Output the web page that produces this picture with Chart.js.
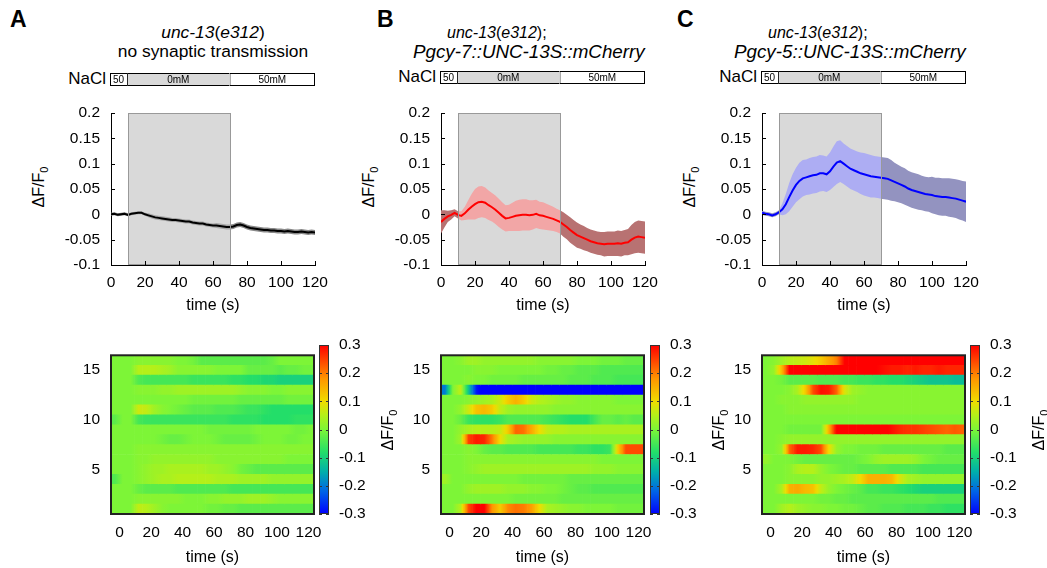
<!DOCTYPE html>
<html>
<head>
<meta charset="utf-8">
<script src="https://cdn.jsdelivr.net/npm/chart.js@4.4.1/dist/chart.umd.min.js"></script>
<style>
  body { margin: 0; width: 1047px; height: 568px; position: relative; overflow: hidden; background: #fff;
         font-family: "Liberation Sans", Arial, sans-serif; color: #000; }
  canvas { position: absolute; }
  .txt { position: absolute; white-space: nowrap; }
  .letter { font-weight: bold; font-size: 23px; line-height: 23px; }
  .ttl { font-size: 17.4px; line-height: 19px; }
  .ttl.sm { font-size: 16px; }
  .ttl.lg { font-size: 18.8px; line-height: 22px; }
  .nacl { font-size: 17px; line-height: 20px; width: 60px; text-align: right; }
  .rot { position: absolute; width: 80px; height: 20px; line-height: 20px; text-align: center; font-size: 16px;
         white-space: nowrap; transform: translate(-50%, -50%) rotate(-90deg); }
  .rot sub { font-size: 11px; }
</style>
</head>
<body>

<div class="txt letter" style="left:10px;top:8px">A</div>
<div class="txt letter" style="left:377px;top:8px">B</div>
<div class="txt letter" style="left:677px;top:8px">C</div>

<div class="txt ttl" style="left:111px;top:23px;width:204px;text-align:center"><i>unc-13</i>(<i>e312</i>)</div>
<div class="txt ttl" style="left:111px;top:42px;width:204px;text-align:center">no synaptic transmission</div>
<div class="txt ttl sm" style="left:447px;top:23px"><i>unc-13</i>(<i>e312</i>);</div>
<div class="txt ttl lg" style="left:413px;top:41px"><i>Pgcy-7::UNC-13S::mCherry</i></div>
<div class="txt ttl sm" style="left:768px;top:23px"><i>unc-13</i>(<i>e312</i>);</div>
<div class="txt ttl lg" style="left:734px;top:41px"><i>Pgcy-5::UNC-13S::mCherry</i></div>

<div class="txt nacl" style="left:46px;top:69px">NaCl</div>
<div class="txt nacl" style="left:376px;top:67px">NaCl</div>
<div class="txt nacl" style="left:697px;top:67px">NaCl</div>
<canvas id="naclA" width="205" height="13" style="left:110px;top:73px"></canvas>
<canvas id="naclB" width="205" height="13" style="left:440px;top:71px"></canvas>
<canvas id="naclC" width="205" height="13" style="left:761px;top:71px"></canvas>

<div class="rot" style="left:39px;top:187px">ΔF/F<sub>0</sub></div>
<div class="rot" style="left:369px;top:187px">ΔF/F<sub>0</sub></div>
<div class="rot" style="left:690px;top:187px">ΔF/F<sub>0</sub></div>
<canvas id="lineA" width="280" height="212" style="left:51px;top:103px"></canvas>
<canvas id="lineB" width="280" height="212" style="left:381px;top:103px"></canvas>
<canvas id="lineC" width="280" height="212" style="left:702px;top:103px"></canvas>

<canvas id="heatA" width="267" height="233" style="left:61px;top:335px"></canvas>
<canvas id="heatB" width="267" height="233" style="left:391px;top:335px"></canvas>
<canvas id="heatC" width="267" height="233" style="left:712px;top:335px"></canvas>
<canvas id="barA" width="55" height="233" style="left:319px;top:335px"></canvas>
<canvas id="barB" width="55" height="233" style="left:650px;top:335px"></canvas>
<canvas id="barC" width="55" height="233" style="left:970px;top:335px"></canvas>
<div class="rot" style="left:388px;top:430px">ΔF/F<sub>0</sub></div>
<div class="rot" style="left:719px;top:430px">ΔF/F<sub>0</sub></div>
<div class="rot" style="left:1039px;top:430px">ΔF/F<sub>0</sub></div>

<script>
// stimulus protocol (s)
const stimOn = 10, stimOff = 70
const naclLabels = ['50', '0mM', '50mM']
const naclConc = [50, 0, 50]
const naclFrom = [0, 10, 70]
const naclTo = [10, 70, 120]

// mean trace sampling times (s)
const time = [0,2,4,6,8,10,12,14,16,18,20,22,24,26,28,30,32,34,36,38,40,42,44,46,48,50,52,54,56,58,
  60,62,64,66,68,70,72,74,76,78,80,82,84,86,88,90,92,94,96,98,100,102,104,106,108,110,112,114,116,118,120]

const meanA = [0.000,0.001,-0.001,0.000,0.001,-0.001,0.001,0.002,0.003,0.003,
  0.000,-0.002,-0.004,-0.006,-0.007,-0.008,-0.009,-0.010,-0.011,-0.011,
  -0.012,-0.013,-0.014,-0.014,-0.016,-0.017,-0.018,-0.018,-0.020,-0.021,
  -0.022,-0.022,-0.023,-0.024,-0.025,-0.025,-0.024,-0.021,-0.020,-0.022,
  -0.025,-0.027,-0.028,-0.029,-0.030,-0.031,-0.031,-0.032,-0.032,-0.033,
  -0.033,-0.034,-0.033,-0.034,-0.035,-0.035,-0.034,-0.035,-0.036,-0.035,-0.036]
const semA = [0.003,0.003,0.003,0.003,0.003,0.003,0.003,0.003,0.003,0.003,
  0.003,0.004,0.004,0.004,0.004,0.004,0.004,0.004,0.004,0.004,
  0.004,0.004,0.004,0.004,0.004,0.004,0.004,0.004,0.004,0.004,
  0.004,0.005,0.005,0.005,0.005,0.005,0.005,0.005,0.005,0.005,
  0.005,0.005,0.005,0.005,0.005,0.005,0.005,0.005,0.005,0.005,
  0.005,0.005,0.005,0.005,0.005,0.005,0.005,0.005,0.005,0.005,0.005]

const meanB = [-0.015,-0.009,-0.004,-0.001,0.003,-0.001,-0.003,0.002,0.009,0.015,
  0.020,0.024,0.025,0.023,0.018,0.014,0.009,0.003,-0.003,-0.008,
  -0.007,-0.005,-0.003,-0.002,-0.001,-0.001,-0.002,-0.001,0.001,-0.002,
  -0.003,-0.005,-0.007,-0.009,-0.012,-0.015,-0.020,-0.025,-0.031,-0.036,
  -0.041,-0.044,-0.047,-0.050,-0.053,-0.055,-0.057,-0.058,-0.059,-0.058,
  -0.058,-0.058,-0.057,-0.058,-0.056,-0.055,-0.050,-0.046,-0.044,-0.045,-0.046]
const semB = [0.023,0.017,0.011,0.009,0.007,0.007,0.009,0.013,0.019,0.025,
  0.030,0.031,0.031,0.030,0.029,0.028,0.028,0.028,0.027,0.026,
  0.026,0.028,0.030,0.031,0.031,0.031,0.030,0.029,0.028,0.027,
  0.027,0.026,0.025,0.024,0.023,0.023,0.024,0.024,0.025,0.025,
  0.025,0.024,0.024,0.023,0.023,0.023,0.023,0.023,0.024,0.024,
  0.024,0.024,0.025,0.025,0.025,0.026,0.029,0.031,0.032,0.032,0.032]

const meanC = [0.003,0.001,0.000,-0.002,0.000,0.004,0.010,0.020,0.034,0.047,
  0.058,0.066,0.071,0.073,0.075,0.077,0.078,0.081,0.081,0.079,
  0.085,0.094,0.102,0.105,0.100,0.095,0.090,0.087,0.084,0.081,
  0.079,0.077,0.075,0.074,0.073,0.072,0.071,0.070,0.067,0.064,
  0.061,0.058,0.055,0.051,0.048,0.046,0.044,0.042,0.040,0.039,
  0.038,0.036,0.035,0.034,0.034,0.033,0.032,0.031,0.029,0.027,0.025]
const semC = [0.004,0.004,0.004,0.004,0.004,0.004,0.012,0.020,0.028,0.032,
  0.034,0.036,0.036,0.035,0.036,0.036,0.036,0.036,0.035,0.035,
  0.037,0.040,0.042,0.041,0.040,0.040,0.040,0.040,0.040,0.041,
  0.042,0.042,0.042,0.041,0.041,0.041,0.041,0.041,0.040,0.038,
  0.037,0.036,0.036,0.035,0.035,0.035,0.035,0.034,0.034,0.034,
  0.036,0.036,0.037,0.037,0.037,0.038,0.038,0.038,0.039,0.039,0.040]

// heatmap: one row per animal (top row = 16), columns centred on heatTimes
const rowLabels = ['16','15','14','13','12','11','10','9','8','7','6','5','4','3','2','1']
const heatTimes = [-3,2,7,12,17,22,27,32,37,42,47,52,57,62,67,72,77,82,87,92,97,102,107,112,117,122]
const cellHalf = 2.5

const heatA = [
  [0,0,0,0.01,0.01,0.01,0.01,0.01,0,0,-0.01,-0.03,-0.03,-0.03,-0.03,-0.03,-0.03,-0.03,-0.03,-0.03,-0.02,0,0,0,0,0],
  [0,0,0,0.05,0.05,0.05,0.04,0.03,0.01,0.01,0.01,0.01,0.01,0,0,0,0,-0.02,-0.02,-0.02,-0.02,-0.03,-0.02,-0.02,-0.01,-0.01],
  [0,0,0,-0.04,-0.05,-0.05,-0.05,-0.05,-0.05,-0.05,-0.06,-0.06,-0.06,-0.06,-0.06,-0.07,-0.07,-0.08,-0.08,-0.09,-0.09,-0.1,-0.1,-0.1,-0.1,-0.1],
  [0,0,0,0.01,0.01,0.01,0.02,0.02,0.03,0.03,0.03,0.03,0.03,0.03,0.03,0.03,0.02,0.01,0.01,0.01,0,0,0.01,0.01,0.01,0.01],
  [0,0,0,0,0,0,0,0,0,0,-0.01,-0.01,-0.01,-0.01,-0.01,-0.01,-0.02,-0.02,-0.02,-0.02,-0.02,-0.02,-0.01,-0.01,-0.01,-0.01],
  [0,0,0,0.07,0.06,0.03,0.01,0,-0.01,-0.02,-0.03,-0.03,-0.03,-0.04,-0.04,-0.04,-0.05,-0.06,-0.06,-0.07,-0.08,-0.08,-0.08,-0.08,-0.08,-0.08],
  [-0.03,0,0,-0.05,-0.06,-0.06,-0.06,-0.06,-0.06,-0.06,-0.06,-0.06,-0.06,-0.06,-0.06,-0.07,-0.07,-0.07,-0.07,-0.08,-0.08,-0.08,-0.08,-0.07,-0.07,-0.07],
  [0,0,0,0,0,0,0,0,0,0,0,0,-0.01,-0.01,-0.01,-0.01,-0.01,-0.01,0,0,0,0,0,-0.01,-0.01,0],
  [0,0,0,0,0,0,-0.01,-0.02,-0.02,-0.01,0,0,0,-0.01,-0.02,-0.02,-0.02,-0.02,-0.01,0,0,0,-0.01,-0.01,0,0],
  [0,0,0,0.01,0.01,0.01,0.01,0.01,0.01,0.01,0.01,0.01,0.01,0.01,0.01,0.01,0.01,0.01,0.01,0.01,0.01,0.01,0.01,0.01,0.01,0.01],
  [0,0,0,0.01,0.01,0.02,0.02,0.02,0.02,0.02,0.02,0.02,0.02,0.01,0.01,0.01,0.01,0.01,0.01,0.01,0.01,0.01,0,0,0,0],
  [0,0,0,0.01,0.02,0.03,0.03,0.04,0.04,0.04,0.04,0.04,0.03,0.03,0.02,0.01,-0.01,-0.02,-0.03,-0.03,-0.03,-0.03,-0.03,-0.03,-0.03,-0.03],
  [-0.04,0,0,0.01,0.02,0.03,0.04,0.04,0.05,0.05,0.05,0.05,0.05,0.04,0.04,0.04,0.03,0.03,0.03,0.03,0.02,0.02,0.02,0.02,0.02,0.02],
  [0,0,0,-0.02,-0.03,-0.03,-0.03,-0.03,-0.04,-0.04,-0.04,-0.04,-0.04,-0.04,-0.04,-0.05,-0.05,-0.05,-0.05,-0.05,-0.05,-0.05,-0.05,-0.05,-0.05,-0.05],
  [0,0,0,0.01,0.01,0.01,0.01,0.01,0.01,0,0,0,0.01,0.01,0.02,0.02,0.02,0.03,0.03,0.03,0.02,0.01,0.01,0.01,0.01,0.01],
  [0,0,0,0.06,0.05,0.03,0.01,0,0,0,0,0,-0.01,-0.01,-0.02,-0.02,-0.03,-0.03,-0.03,-0.03,-0.03,-0.03,-0.03,-0.03,-0.03,-0.03]
]

const heatB = [
  [0,0,0.01,0.03,0.03,0.02,0.02,0.02,0.02,0.02,0.02,0.02,0.01,0.01,0.01,0.01,0.01,0,0,0,-0.01,-0.01,-0.01,-0.02,-0.02,-0.02],
  [0,0,0,0,0.01,0.01,0.01,0,0,0,0,0,0,-0.01,-0.01,-0.02,-0.02,-0.03,-0.03,-0.03,-0.04,-0.04,-0.04,-0.04,-0.04,-0.04],
  [0,0,0,0.01,0,0,-0.01,-0.01,-0.01,-0.01,-0.02,-0.02,-0.02,-0.02,-0.02,-0.02,-0.03,-0.03,-0.03,-0.04,-0.04,-0.04,-0.05,-0.05,-0.05,-0.05],
  [-0.2,0,0.06,-0.12,-0.28,-0.33,-0.33,-0.33,-0.33,-0.33,-0.33,-0.33,-0.33,-0.33,-0.33,-0.33,-0.33,-0.33,-0.33,-0.33,-0.33,-0.33,-0.33,-0.33,-0.33,-0.33],
  [0,0,0,0.01,0.02,0.03,0.04,0.07,0.12,0.15,0.12,0.07,0.05,0.04,0.03,0.02,0.02,0.01,0.01,0.01,0.01,0.01,0,0,0,0],
  [0,0,0.02,0.07,0.13,0.14,0.12,0.06,0.03,0.02,0.02,0.02,0.02,0.02,0.01,0.01,0.01,0.01,0.01,0.01,0.01,0.01,0.01,0.01,0.01,0.01],
  [0,0,-0.02,-0.06,-0.07,-0.07,-0.07,-0.06,-0.04,-0.04,-0.04,-0.04,-0.04,-0.05,-0.06,-0.07,-0.08,-0.08,-0.08,-0.05,-0.02,-0.02,-0.03,-0.02,-0.03,-0.03],
  [0,0,0.02,0.04,0.05,0.05,0.05,0.06,0.12,0.22,0.21,0.16,0.1,0.06,0.05,0.05,0.04,0.04,0.04,0.04,0.04,0.04,0.04,0.04,0.04,0.04],
  [0,0,0.03,0.25,0.28,0.27,0.2,0.1,0.04,0.03,0.02,0.02,0.02,0.02,0.01,0.01,0.01,0.01,0.01,0.01,0.01,0.01,0.01,0.01,0.01,0.01],
  [0,0,0,0.01,0,-0.02,-0.03,-0.03,-0.04,-0.04,-0.04,-0.04,-0.05,-0.05,-0.05,-0.05,-0.05,-0.06,-0.06,-0.07,-0.07,-0.06,0.12,0.24,0.24,0.24],
  [0,0,0,0.01,0.01,0.01,0.01,0.01,0.01,0.01,0.01,0.01,0.01,0.01,0.01,0.01,0.01,0.01,0.01,0.01,0,0,0,0,0,0],
  [0,0,0,0.01,0.02,0.03,0.03,0.03,0.03,0.03,0.03,0.03,0.03,0.03,0.03,0.03,0.03,0.03,0.03,0.02,0.02,0.02,0.01,0.01,0.01,0.01],
  [0.03,0,0,0,0,0,0,0,0,0,-0.01,-0.01,-0.01,-0.01,-0.01,-0.01,-0.02,-0.02,-0.02,-0.02,-0.02,-0.02,-0.02,-0.02,-0.02,-0.02],
  [0,0,0,0.02,0.03,0.03,0.03,0.03,0.02,0.02,0.02,0.01,0.01,0,0,-0.01,-0.02,-0.03,-0.03,-0.04,-0.04,-0.04,-0.04,-0.04,-0.04,-0.04],
  [0,0,0,0,0,0,0,0,0,-0.01,-0.01,-0.01,-0.01,-0.01,-0.01,-0.02,-0.02,-0.02,-0.02,-0.02,-0.02,-0.02,-0.02,-0.02,-0.02,-0.02],
  [0,0,0.05,0.24,0.3,0.3,0.18,0.12,0.19,0.21,0.2,0.17,0.1,0.04,0.03,0.02,0.01,0.01,0,0,0,0,-0.01,-0.01,-0.01,-0.01]
]

const heatC = [
  [0,0.01,0.03,0.05,0.06,0.07,0.09,0.12,0.16,0.2,0.3,0.32,0.32,0.32,0.32,0.32,0.32,0.32,0.32,0.32,0.32,0.32,0.32,0.32,0.32,0.32],
  [0,0.02,0.14,0.3,0.31,0.31,0.31,0.31,0.31,0.31,0.31,0.31,0.31,0.31,0.3,0.29,0.28,0.28,0.27,0.28,0.27,0.27,0.28,0.27,0.27,0.27],
  [0,0,-0.01,-0.03,-0.03,-0.03,-0.03,-0.04,-0.04,-0.04,-0.05,-0.05,-0.06,-0.06,-0.07,-0.07,-0.08,-0.08,-0.09,-0.1,-0.11,-0.12,-0.12,-0.12,-0.13,-0.13],
  [0,0,0,0.01,0.04,0.12,0.24,0.29,0.28,0.22,0.08,0.03,0.02,0.01,0.01,0.01,0.01,0.01,0.01,0.01,0.01,0.01,0.01,0.01,0.01,0.01],
  [0,0,0.01,0.01,0.01,0.02,0.02,0.02,0.02,0.02,0.02,0.02,0.01,0.01,0.01,0.01,0.01,0.01,0.01,0.01,0.01,0.01,0.01,0.01,0.01,0.01],
  [0,0,0,0.01,0.01,0.01,0.01,0.01,0.01,0.01,0.01,0.01,0.01,0.01,0.01,0.01,0.01,0.01,0.01,0.01,0.01,0.01,0.01,0.01,0.01,0.01],
  [0,0,0,0,0,0,0,0,0,0,0,0,0,0,0,0,0,0,0,0,0,0,0,0,0,0],
  [0,0,0,-0.01,-0.01,-0.01,-0.01,-0.01,0.15,0.31,0.31,0.31,0.31,0.31,0.31,0.31,0.29,0.27,0.26,0.26,0.25,0.24,0.23,0.22,0.23,0.22],
  [0,0,0.01,0.02,0.02,0.02,0.02,0.02,0.02,0.02,0.02,0.02,0.02,0.02,0.02,0.02,0.02,0.02,0.02,0.02,0.02,0.02,0.02,0.02,0.02,0.02],
  [0,0,0.02,0.22,0.28,0.28,0.27,0.24,0.1,0.02,0,0,-0.01,-0.01,-0.01,-0.02,-0.02,-0.02,-0.02,-0.02,-0.02,-0.02,-0.02,-0.03,-0.03,-0.03],
  [0.02,0,0,0,-0.01,-0.02,-0.02,-0.02,-0.02,-0.02,-0.02,-0.02,-0.01,0,0.02,0.03,0.03,0.03,0.03,0.02,0,-0.01,-0.02,-0.02,-0.02,-0.02],
  [0,0,0,0.01,0.04,0.05,0.05,0.02,0,-0.01,-0.02,-0.02,-0.03,-0.03,-0.03,-0.03,-0.04,-0.04,-0.04,-0.04,-0.05,-0.05,-0.05,-0.05,-0.05,-0.05],
  [0,0,0,0.01,0.01,0.01,0.01,0.02,0.02,0.03,0.04,0.06,0.1,0.15,0.15,0.15,0.14,0.08,0.04,0.03,0.02,0.02,0.02,0.02,0.02,0.02],
  [0,0,0.04,0.15,0.16,0.14,0.13,0.06,0.02,0,-0.01,-0.02,-0.03,-0.05,-0.05,-0.06,-0.06,-0.07,-0.08,-0.09,-0.1,-0.1,-0.1,-0.1,-0.1,-0.1],
  [0,0,0,0,0,0,0,-0.01,-0.01,-0.02,-0.02,-0.03,-0.03,-0.03,-0.03,-0.03,-0.03,-0.03,-0.03,-0.03,-0.03,-0.03,-0.04,-0.04,-0.04,-0.04],
  [0,0,0.03,0.05,0.03,0.02,0.01,0.01,0,0,-0.01,-0.01,-0.02,-0.03,-0.03,-0.04,-0.04,-0.04,-0.05,-0.05,-0.05,-0.06,-0.06,-0.07,-0.07,-0.07]
]

// jet-like palette, -0.3 (blue) .. 0.3 (red)
const cmapStops = [-0.3, -0.22, -0.15, -0.08, 0, 0.05, 0.1, 0.18, 0.24, 0.3]
const cmapRgb = [[0,0,255],[0,100,230],[0,175,170],[35,222,105],[125,245,55],[180,240,25],[240,220,0],[255,150,0],[255,75,0],[255,0,0]]

Chart.defaults.font.family = '"Liberation Sans", Arial, sans-serif'
Chart.defaults.color = '#000'

const tickFont = {size: 15.5}
const titleFont = {size: 16}

function heatColor(v) {
    const n = cmapStops.length
    v = Math.max(cmapStops[0], Math.min(cmapStops[n - 1], v))
    let i = 0
    while (i < n - 2 && v > cmapStops[i + 1]) i++
    const f = (v - cmapStops[i]) / (cmapStops[i + 1] - cmapStops[i])
    const a = cmapRgb[i], b = cmapRgb[i + 1]
    return `rgb(${Math.round(a[0] + (b[0] - a[0]) * f)},${Math.round(a[1] + (b[1] - a[1]) * f)},${Math.round(a[2] + (b[2] - a[2]) * f)})`
}

const fmt = (v) => Math.abs(v) < 1e-9 ? '0' : String(+v.toFixed(2))

// grey box marking the 0 mM period
const stimBox = {
    id: 'stimBox',
    beforeDatasetsDraw(chart) {
        const {ctx, chartArea: a, scales: {x}} = chart
        const x0 = x.getPixelForValue(stimOn), x1 = x.getPixelForValue(stimOff)
        ctx.save()
        ctx.fillStyle = '#d9d9d9'
        ctx.fillRect(x0, a.top, x1 - x0, a.bottom - a.top)
        ctx.restore()
    },
    afterDatasetsDraw(chart) {
        const {ctx, chartArea: a, scales: {x}} = chart
        const x0 = Math.round(x.getPixelForValue(stimOn)) + 0.5, x1 = Math.round(x.getPixelForValue(stimOff)) + 0.5
        ctx.save()
        ctx.strokeStyle = '#999'
        ctx.lineWidth = 1
        ctx.strokeRect(x0, Math.round(a.top) + 0.5, x1 - x0, Math.round(a.bottom - a.top) - 1)
        ctx.restore()
    }
}

// short tick marks pointing into the plot
const innerTicks = {
    id: 'innerTicks',
    afterDraw(chart) {
        const {ctx, chartArea: a, scales: {x, y}} = chart
        ctx.save()
        ctx.strokeStyle = '#000'
        ctx.lineWidth = 1
        ctx.beginPath()
        x.ticks.forEach(t => {
            const px = Math.round(x.getPixelForValue(t.value)) + 0.5
            ctx.moveTo(px, a.bottom); ctx.lineTo(px, a.bottom - 4)
        })
        y.ticks.forEach(t => {
            const py = Math.round(y.getPixelForValue(t.value)) + 0.5
            ctx.moveTo(a.left, py); ctx.lineTo(a.left + 4, py)
        })
        ctx.stroke()
        ctx.restore()
    }
}

function lineChart(id, mean, sem, lineColor, bandIn, bandOut) {
    const pts = mean.map((m, i) => ({x: time[i], y: m}))
    const upper = mean.map((m, i) => ({x: time[i], y: m + sem[i]}))
    const lower = mean.map((m, i) => ({x: time[i], y: m - sem[i]}))
    const bandColor = (c) => {
        const mid = (c.p0.parsed.x + c.p1.parsed.x) / 2
        return mid > stimOn && mid < stimOff ? bandIn : bandOut
    }
    new Chart(document.getElementById(id), {
        type: 'line',
        data: {
            datasets: [
                {data: pts, borderColor: lineColor, borderWidth: 2, pointRadius: 0, fill: false, tension: 0},
                {data: upper, borderColor: 'rgba(0,0,0,0)', borderWidth: 0, pointRadius: 0, fill: '+1',
                 backgroundColor: bandOut, segment: {backgroundColor: bandColor}},
                {data: lower, borderColor: 'rgba(0,0,0,0)', borderWidth: 0, pointRadius: 0, fill: false}
            ]
        },
        options: {
            responsive: false,
            animation: false,
            layout: {padding: {top: 10, right: 16, left: 0, bottom: 0}},
            plugins: {legend: {display: false}, tooltip: {enabled: false}},
            scales: {
                x: {
                    type: 'linear', min: 0, max: 120,
                    ticks: {stepSize: 20, padding: 8, font: tickFont, maxRotation: 0},
                    grid: {display: false, drawTicks: false},
                    border: {color: '#000'},
                    title: {display: true, text: 'time (s)', font: titleFont, padding: {top: 0, bottom: 0}},
                    afterFit: (s) => { s.height = 50; s.paddingLeft = 0; s.paddingRight = 0 }
                },
                y: {
                    min: -0.1, max: 0.2,
                    ticks: {stepSize: 0.05, padding: 11, font: tickFont, callback: fmt},
                    grid: {display: false, drawTicks: false},
                    border: {color: '#000'},
                    afterFit: (s) => { s.width = 60; s.paddingTop = 0; s.paddingBottom = 0 }
                }
            }
        },
        plugins: [stimBox, innerTicks]
    })
}

// each heatmap cell is shaded from its neighbours' midpoints through its own value
function cellFill(heat) {
    return (c) => {
        const row = heat[c.dataIndex], k = c.datasetIndex
        if (!row) return '#fff'
        const v = row[k]
        const prev = row[Math.max(k - 1, 0)], next = row[Math.min(k + 1, row.length - 1)]
        const x = c.chart.scales.x
        const a = x ? x.getPixelForValue(heatTimes[k] - cellHalf) : NaN
        const b = x ? x.getPixelForValue(heatTimes[k] + cellHalf) : NaN
        if (!isFinite(a) || !isFinite(b) || b <= a) return heatColor(v)
        const g = c.chart.ctx.createLinearGradient(a, 0, b, 0)
        ;[0, 0.25, 0.5, 0.75, 1].forEach(f => {
            const val = f < 0.5 ? v + (prev - v) * (0.5 - f) : v + (next - v) * (f - 0.5)
            g.addColorStop(f, heatColor(val))
        })
        return g
    }
}

const heatFrame = {
    id: 'heatFrame',
    afterDatasetsDraw(chart) {
        const {ctx, chartArea: a} = chart
        ctx.save()
        ctx.strokeStyle = '#222'
        ctx.lineWidth = 2
        ctx.strokeRect(a.left, a.top, a.right - a.left, a.bottom - a.top)
        ctx.restore()
    }
}

function heatChart(id, heat) {
    const datasets = heatTimes.map((t) => ({
        data: heat.map(() => [t - cellHalf, t + cellHalf]),
        backgroundColor: cellFill(heat),
        borderWidth: 0,
        grouped: false,
        barPercentage: 1,
        categoryPercentage: 1
    }))
    new Chart(document.getElementById(id), {
        type: 'bar',
        data: {labels: rowLabels, datasets},
        options: {
            indexAxis: 'y',
            responsive: false,
            animation: false,
            layout: {padding: {top: 10, right: 14, left: 0, bottom: 0}},
            plugins: {legend: {display: false}, tooltip: {enabled: false}},
            scales: {
                x: {
                    type: 'linear', min: -5.5, max: 123.5,
                    afterBuildTicks: (s) => { s.ticks = [0, 20, 40, 60, 80, 100, 120].map(v => ({value: v})) },
                    ticks: {padding: 9, font: tickFont, maxRotation: 0},
                    grid: {display: false, drawTicks: false},
                    border: {display: false},
                    title: {display: true, text: 'time (s)', font: titleFont, padding: {top: 0, bottom: 1}},
                    afterFit: (s) => { s.height = 54; s.paddingLeft = 0; s.paddingRight = 0 }
                },
                y: {
                    ticks: {
                        autoSkip: false, padding: 11, font: tickFont,
                        callback: function (v) {
                            const l = this.getLabelForValue(v)
                            return Number(l) % 5 === 0 ? l : ''
                        }
                    },
                    grid: {display: false, drawTicks: false},
                    border: {display: false},
                    afterFit: (s) => { s.width = 50 }
                }
            }
        },
        plugins: [heatFrame]
    })
}

const colorBar = {
    id: 'colorBar',
    afterDraw(chart) {
        const {ctx, chartArea: a, scales: {y}} = chart
        const g = ctx.createLinearGradient(0, y.getPixelForValue(cmapStops[0]), 0, y.getPixelForValue(cmapStops[cmapStops.length - 1]))
        cmapStops.forEach((s) => g.addColorStop((s - cmapStops[0]) / (cmapStops[cmapStops.length - 1] - cmapStops[0]), heatColor(s)))
        ctx.save()
        ctx.fillStyle = g
        ctx.fillRect(a.left, a.top, a.right - a.left, a.bottom - a.top)
        ctx.strokeStyle = '#333'
        ctx.lineWidth = 1
        ctx.beginPath()
        y.ticks.forEach(t => {
            const py = Math.round(y.getPixelForValue(t.value)) + 0.5
            ctx.moveTo(a.left, py); ctx.lineTo(a.left + 3, py)
            ctx.moveTo(a.right, py); ctx.lineTo(a.right - 3, py)
        })
        ctx.stroke()
        ctx.strokeRect(a.left + 0.5, a.top + 0.5, a.right - a.left - 1, a.bottom - a.top - 1)
        ctx.restore()
    }
}

function colorBarChart(id) {
    new Chart(document.getElementById(id), {
        type: 'bar',
        data: {labels: [], datasets: []},
        options: {
            responsive: false,
            animation: false,
            layout: {padding: {top: 10, bottom: 54, left: 0, right: 0}},
            plugins: {legend: {display: false}, tooltip: {enabled: false}},
            scales: {
                x: {display: false},
                y: {
                    position: 'right', min: -0.3, max: 0.3,
                    ticks: {stepSize: 0.1, padding: 10, font: tickFont, callback: fmt},
                    grid: {display: false, drawTicks: false},
                    border: {display: false},
                    afterFit: (s) => { s.width = 45; s.paddingTop = 0; s.paddingBottom = 0 }
                }
            }
        },
        plugins: [colorBar]
    })
}

const naclText = {
    id: 'naclText',
    afterDatasetsDraw(chart) {
        const {ctx} = chart
        ctx.save()
        ctx.font = '10px "Liberation Sans", Arial, sans-serif'
        ctx.fillStyle = '#000'
        ctx.textAlign = 'center'
        ctx.textBaseline = 'middle'
        chart.data.datasets.forEach((d, i) => {
            const el = chart.getDatasetMeta(i).data[0]
            ctx.fillText(naclLabels[i], (el.x + el.base) / 2, el.y + 0.5)
        })
        ctx.restore()
    }
}

function naclChart(id) {
    const datasets = naclLabels.map((l, i) => ({
        data: [[naclFrom[i], naclTo[i]]],
        backgroundColor: naclConc[i] === 0 ? '#d9d9d9' : '#fff',
        borderColor: '#000',
        borderWidth: {top: 1, bottom: 1, left: 1, right: i === naclLabels.length - 1 ? 1 : 0},
        borderSkipped: false,
        inflateAmount: 0,
        grouped: false,
        barPercentage: 1,
        categoryPercentage: 1
    }))
    new Chart(document.getElementById(id), {
        type: 'bar',
        data: {labels: ['NaCl'], datasets},
        options: {
            indexAxis: 'y',
            responsive: false,
            animation: false,
            layout: {padding: 0},
            plugins: {legend: {display: false}, tooltip: {enabled: false}},
            scales: {
                x: {display: false, min: 0, max: 120},
                y: {display: false}
            }
        },
        plugins: [naclText]
    })
}

naclChart('naclA')
naclChart('naclB')
naclChart('naclC')

lineChart('lineA', meanA, semA, '#000', '#a6a6a6', '#8a8a8a')
lineChart('lineB', meanB, semB, '#ff0000', '#f2a6a6', '#b87272')
lineChart('lineC', meanC, semC, '#0000ff', '#adadf3', '#9393c0')

heatChart('heatA', heatA)
heatChart('heatB', heatB)
heatChart('heatC', heatC)

colorBarChart('barA')
colorBarChart('barB')
colorBarChart('barC')
</script>
</body>
</html>
